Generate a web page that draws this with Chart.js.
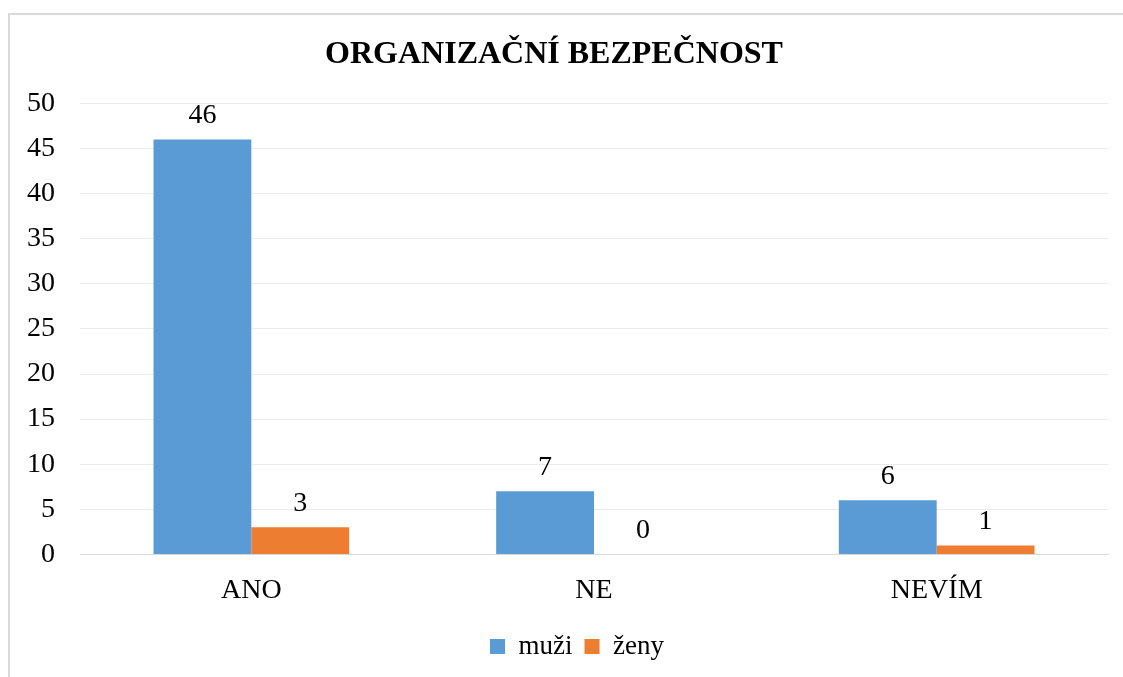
<!DOCTYPE html>
<html>
<head>
<meta charset="utf-8">
<script src="https://cdn.jsdelivr.net/npm/chart.js@4"></script>
<style>
  html, body { margin: 0; padding: 0; background: #fff; }
  #frame { position: absolute; left: 8px; top: 13px; width: 1130px; height: 680px; border: 2px solid #d9d9d9; box-sizing: border-box; }
  #wrap { position: absolute; left: 0; top: 0; width: 1123px; height: 677px; }
</style>
</head>
<body>
<div id="frame"></div>
<div id="wrap"><canvas id="chart"></canvas></div>
<script>
const categories = ['ANO', 'NE', 'NEVÍM'];
const muzi = [46, 7, 6];
const zeny = [3, 0, 1];
const yTicks = [0, 5, 10, 15, 20, 25, 30, 35, 40, 45, 50];

const serif = '"Liberation Serif", "Times New Roman", serif';

// value labels above each bar
const valueLabels = {
  id: 'valueLabels',
  afterDatasetsDraw(chart) {
    const ctx = chart.ctx;
    ctx.save();
    ctx.font = '28px ' + serif;
    ctx.fillStyle = '#000';
    ctx.textAlign = 'center';
    ctx.textBaseline = 'bottom';
    chart.data.datasets.forEach((ds, i) => {
      chart.getDatasetMeta(i).data.forEach((bar, j) => {
        ctx.fillText(ds.data[j], bar.x, bar.y - 10);
      });
    });
    ctx.restore();
  }
};

// legend sits a bit right of centre in the original
const legendShift = {
  id: 'legendShift',
  afterLayout(chart) {
    chart.legend.left += 23;
    chart.legend.right += 23;
    chart.legend.top += 3;
    chart.legend.bottom += 3;
  }
};

new Chart(document.getElementById('chart'), {
  type: 'bar',
  data: {
    labels: categories,
    datasets: [
      { label: 'muži', data: muzi, backgroundColor: '#5B9BD5' },
      { label: 'ženy', data: zeny, backgroundColor: '#ED7D31' }
    ]
  },
  options: {
    responsive: true,
    maintainAspectRatio: false,
    animation: false,
    categoryPercentage: 0.571,
    barPercentage: 1,
    layout: { padding: { left: 0, right: 15, top: 36, bottom: 10 } },
    scales: {
      x: {
        grid: { display: false },
        border: { display: true, color: '#d9d9d9', width: 1 },
        ticks: { color: '#000', font: { family: serif, size: 28 }, padding: 11 }
      },
      y: {
        min: 0,
        max: 50,
        afterBuildTicks(scale) { scale.ticks = yTicks.map(v => ({ value: v })); },
        afterFit(scale) { scale.width = 80; },
        grid: { color: '#ebebeb', drawTicks: false },
        border: { display: false },
        ticks: { color: '#000', font: { family: serif, size: 28 }, padding: 25 }
      }
    },
    plugins: {
      title: {
        display: true,
        text: 'ORGANIZAČNÍ BEZPEČNOST',
        color: '#000',
        font: { family: serif, size: 32, weight: 'bold' },
        padding: { top: 0, bottom: 29 }
      },
      legend: {
        position: 'bottom',
        labels: {
          color: '#000',
          font: { family: serif, size: 27 },
          boxWidth: 15,
          boxHeight: 15,
          padding: 12
        }
      },
      tooltip: { enabled: false }
    }
  },
  plugins: [valueLabels, legendShift]
});
</script>
</body>
</html>
